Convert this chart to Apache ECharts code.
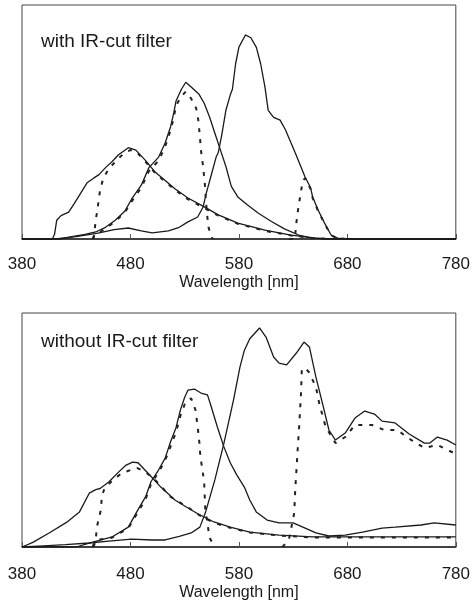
<!DOCTYPE html>
<html>
<head>
<meta charset="utf-8">
<title>IR-cut filter spectra</title>
<script src="https://cdn.jsdelivr.net/npm/echarts@6/dist/echarts.min.js"></script>
<style>
    html, body { margin: 0; padding: 0; background: #fff; }
    #chart { width: 473px; height: 607px; }
</style>
</head>
<body>
<div id="chart"></div>
<script>
// wavelength ticks on the x axis
var tickLabels = [380, 480, 580, 680, 780]

// with IR-cut filter: [wavelength nm, relative response]
var topBlue = [[380,0],[408,0],[410,2],[412,8],[416,10],[423,11.5],[428,15],[434,19.5],[440,24],[446,26],[451,27.5],[457,30.5],[463,33],[469,36],[478,39],[485,38],[494,33.5],[503,28.5],[512,25],[521,21.5],[533,17.5],[549,13.5],[561,10.3],[579,6.8],[604,3.8],[628,1.7],[650,0.4],[665,0],[780,0]]
var topBlueDash = [[446,0],[447,4],[448,8],[450,14],[452,21],[455,26],[460,30],[468,34],[475,37],[480,38],[485,37.5],[494,33],[503,28],[512,24.5],[521,21],[533,17],[549,13],[561,10],[579,6.5],[604,3.5],[628,1.5],[650,0.3],[665,0]]
var topGreen = [[380,0],[415,0],[426,1],[438,2],[448,3],[457,5],[466,8],[475,12],[481,17],[490,23],[497,30.5],[506,35],[512,41],[517,48],[520,54],[522,59],[527,64],[531,67],[536,65],[543,62],[548,58],[553,52],[558,45],[563,38],[568,31],[573,22.5],[579,18],[588,14.5],[598,11],[610,7.5],[622,4.3],[635,1.7],[647,0.5],[660,0],[780,0]]
var topGreenDash = [[445,0],[447,2],[452,3],[457,4.5],[466,7.5],[475,11.5],[481,16],[490,22],[497,29],[506,33.5],[512,39.5],[517,46.5],[520,52],[522,57],[527,61],[531,63],[536,60],[540.5,56],[542.5,51],[544,44],[545,38],[547,31],[548.5,24],[549.5,17],[550.5,11],[552,5],[554.5,1],[556,0]]
var topRed = [[380,0],[410,0],[420,0.5],[430,1],[450,2.5],[465,4],[478,4.7],[490,3.5],[500,2.6],[515,3.5],[525,5],[533,7.3],[542,9.4],[547,13.7],[550,19.7],[554,26.5],[559,35],[561,37],[564,44],[568,55],[572,61.5],[574,64],[577,75],[580,82],[586,87.2],[591,86],[596,82],[600,75],[604,65],[607,55],[612,52],[618,50.8],[623,46.6],[632,36.8],[641,26.5],[646,22],[648,18],[653,12.4],[659,6.8],[665,1.7],[671,0.4],[680,0],[780,0]]
var topRedDash = [[626,0],[631.5,0],[632,2],[632.7,6],[634.5,12.4],[637,19.7],[639,25],[641,26],[646,21.5],[648,17.5],[653,12],[659,6.5],[665,1.5],[671,0.3],[680,0]]

// without IR-cut filter
var botBlue = [[380,0],[390,2],[405,6],[421,10.5],[433,15],[442,23],[448,24.5],[452,25],[460,27.8],[469,32],[476,35],[482,36.3],[487,36],[496,31.6],[508,25.6],[521,20.1],[530,17.5],[542,14.2],[557,10.7],[572,8.5],[590,6.4],[617,5.1],[648,4.3],[780,4.3]]
var botBlueDash = [[446,0],[448,3],[449,8.5],[452.7,15.8],[453.6,21.4],[456,25],[462,27.8],[472,31.6],[486,33.8],[494,32],[503,28.6],[517,21.4],[533,17],[542,14],[557,10.3],[572,8.2],[590,6.2],[617,4.9],[648,4.1],[780,4.1]]
var botGreen = [[380,0],[430,0],[442,1.7],[463,4.3],[478,8.5],[487,16],[494,21.5],[499,28],[506,33],[512,38],[517,45],[522,51],[526,58.5],[530,64],[533,67],[539,67.5],[545,65.8],[551,65],[554,60.7],[560,51.5],[566,43],[572,36],[578,30.8],[585,25.6],[590,20.1],[596,15],[606,11.5],[617,10.3],[630,10.3],[639,8.5],[651,6],[663,4.7],[678,5.1],[694,6.4],[712,8.1],[724,8.5],[748,9.4],[760,10.3],[780,9.4]]
var botGreenDash = [[445,0],[447,2],[449,3],[463,4],[478,8],[487,15],[494,20.5],[499,27],[506,32],[512,37],[517,43],[522,49],[526,56],[530,61],[533,63],[536,63.5],[540,58.5],[542,51.3],[543.6,44.4],[544.5,38.5],[546.4,32.9],[548,27.4],[548.5,21.4],[549,15.8],[551,10.3],[552.7,4.3],[555.5,1.7],[558,0]]
var botRed = [[380,0],[400,0.5],[420,1],[442,1.7],[460,2.5],[481,3.4],[500,3],[512,3],[525,4.5],[536,6],[544,8.5],[549,14.5],[558,29],[566,44],[575,62.8],[581,77],[585,84],[590,89],[599,93.6],[605,89.7],[612,81.2],[617,78.6],[624,77.8],[633,82.9],[640,87.6],[645,85.5],[651,72.6],[657,61.5],[663,50],[669,45.7],[678,48.7],[687,55.1],[696,58.1],[705,56.8],[712,53.8],[724,53],[737,48.3],[751,44.4],[756,44.4],[763,47],[772,45.7],[780,43.6]]
var botRedDash = [[620,0],[626,3],[631,14.5],[632,25],[633.6,37],[634.5,44],[635.5,51],[636.4,58.5],[637.3,66],[638,76],[641,76.5],[644.5,74.8],[651,68.4],[654,61.5],[660,51.3],[669,44.4],[678,47],[687,52.1],[703,52.1],[714,50],[726,50],[739,45.7],[751,42.3],[763,43.6],[778,40.2],[780,40]]

var FONT = '"Liberation Sans", Arial, sans-serif'
var INK = '#1a1a1a'

function xAxisFor(idx, margin, gap) {
    return {
        type: 'value', gridIndex: idx,
        min: tickLabels[0], max: tickLabels[tickLabels.length - 1], interval: 100,
        name: 'Wavelength [nm]', nameLocation: 'middle', nameGap: gap,
        nameTextStyle: { fontFamily: FONT, fontSize: 16, color: INK },
        axisLine: { show: true, lineStyle: { color: '#222', width: 1.5 } },
        axisTick: { show: true, inside: true, length: 5, lineStyle: { color: '#555' } },
        axisLabel: { margin: margin, fontFamily: FONT, fontSize: 17, color: INK, showMinLabel: true, showMaxLabel: true },
        splitLine: { show: false }
    }
}

function yAxisFor(idx) {
    return {
        type: 'value', gridIndex: idx, min: 0, max: 100,
        axisLine: { show: false }, axisTick: { show: false },
        axisLabel: { show: false }, splitLine: { show: false }
    }
}

function curve(idx, data, dashed) {
    return {
        type: 'line', xAxisIndex: idx, yAxisIndex: idx,
        data: data, showSymbol: false, silent: true,
        lineStyle: dashed
            ? { color: '#222', width: 2, type: [4, 7] }
            : { color: INK, width: 1.3 },
        z: dashed ? 3 : 2
    }
}

var myChart = echarts.init(document.getElementById('chart'))
var option = {
    animation: false,
    backgroundColor: '#fff',
    grid: [
        { left: 22, right: 14, top: 5, height: 234, show: true, borderColor: '#444', borderWidth: 1 },
        { left: 22, right: 11, top: 313, height: 234, show: true, borderColor: '#444', borderWidth: 1 }
    ],
    xAxis: [xAxisFor(0, 17, 36), xAxisFor(1, 19, 38)],
    yAxis: [yAxisFor(0), yAxisFor(1)],
    graphic: [
        { type: 'text', left: 41, top: 32, style: { text: 'with IR-cut filter', font: '19px ' + FONT, fill: INK } },
        { type: 'text', left: 41, top: 332, style: { text: 'without IR-cut filter', font: '19px ' + FONT, fill: INK } }
    ],
    series: [
        curve(0, topBlue, false), curve(0, topGreen, false), curve(0, topRed, false),
        curve(0, topBlueDash, true), curve(0, topGreenDash, true), curve(0, topRedDash, true),
        curve(1, botBlue, false), curve(1, botGreen, false), curve(1, botRed, false),
        curve(1, botBlueDash, true), curve(1, botGreenDash, true), curve(1, botRedDash, true)
    ]
}
myChart.setOption(option)
</script>
</body>
</html>
